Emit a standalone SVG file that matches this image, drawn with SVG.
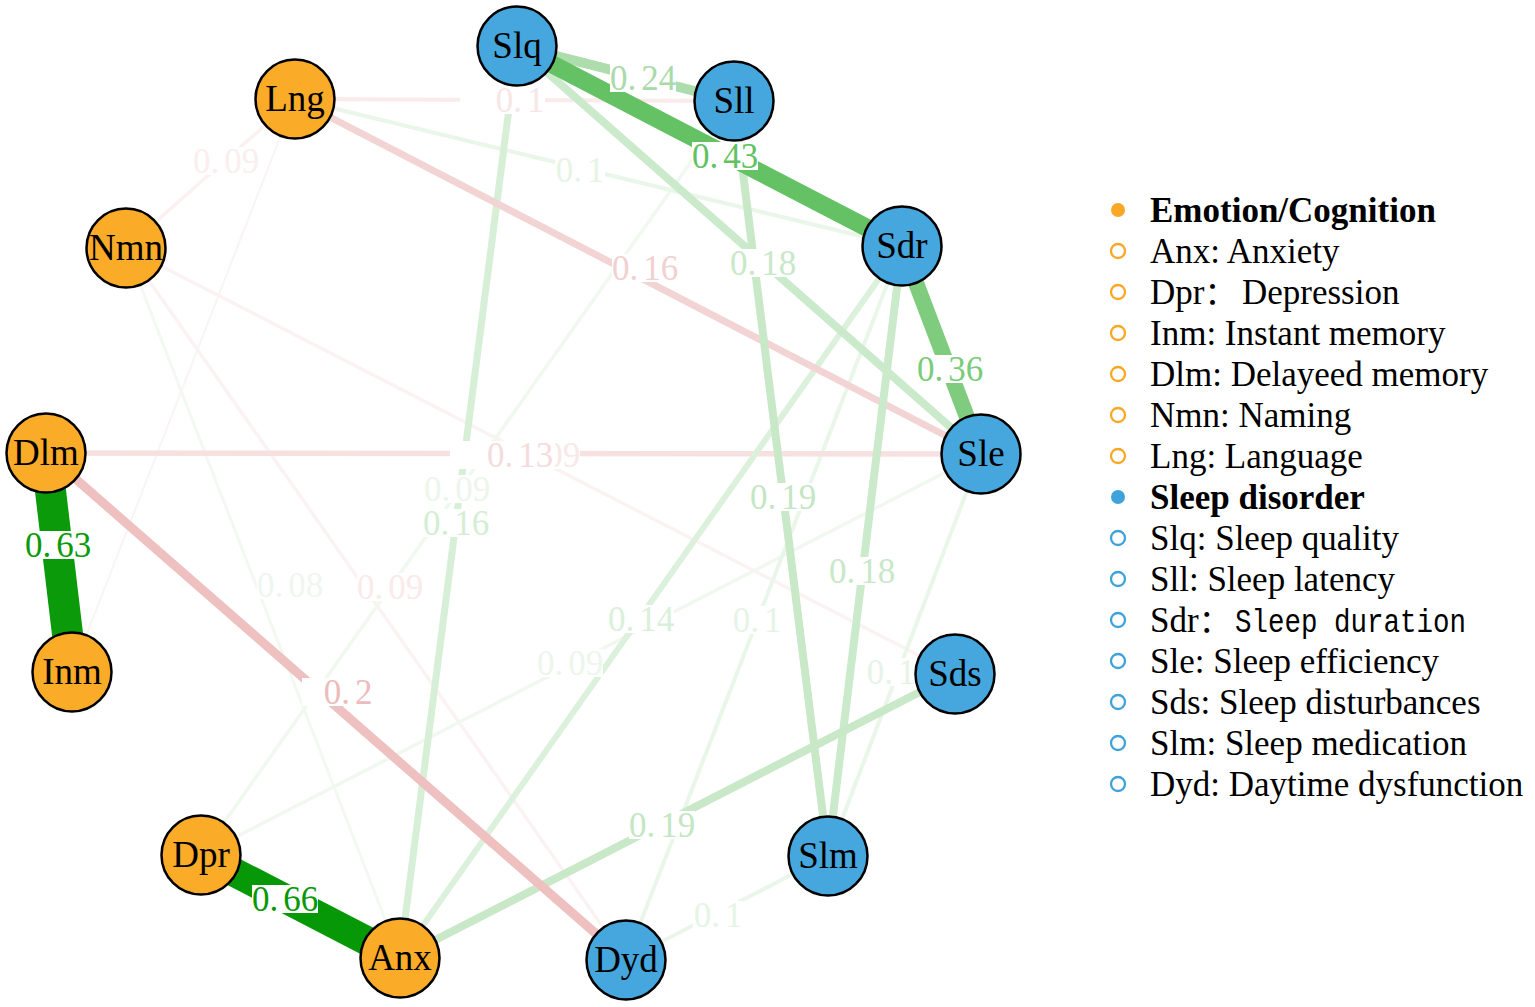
<svg xmlns="http://www.w3.org/2000/svg" width="1535" height="1007" viewBox="0 0 1535 1007">
<style>
.e{fill:none;stroke-linecap:butt}
.lb rect{fill:#ffffff}
.lb text{font-family:"Liberation Serif","Times New Roman",serif;font-size:35px;text-anchor:middle}
.n circle{stroke:#000;stroke-width:2.5}
.o circle{fill:#FAAB28}
.b circle{fill:#45A7DD}
.n text{font-family:"Liberation Serif","Times New Roman",serif;font-size:37px;text-anchor:middle;fill:#000}
.lg{font-family:"Liberation Serif","Times New Roman",serif;font-size:35px;fill:#000}
.hd{font-weight:bold}
.mo{fill:none;stroke:#F9A825;stroke-width:2.3}
.mb{fill:none;stroke:#3EA3DA;stroke-width:2.3}
</style>
<rect width="1535" height="1007" fill="#ffffff"/>
<g id="connectors">
  <line class="e" x1="295" y1="99" x2="72" y2="672" stroke="#f8f5f4" stroke-width="2"/>
  <line class="e" x1="126" y1="248" x2="400" y2="958" stroke="#f4f8f3" stroke-width="3"/>
  <line class="e" x1="126" y1="248" x2="295" y2="99" stroke="#fbf1f0" stroke-width="3.5"/>
  <line class="e" x1="126" y1="248" x2="626" y2="960" stroke="#fbf3f3" stroke-width="3.5"/>
  <line class="e" x1="126" y1="248" x2="955" y2="674" stroke="#fbf3f3" stroke-width="3.5"/>
  <line class="e" x1="201" y1="855" x2="734" y2="101" stroke="#f0f8f0" stroke-width="3.5"/>
  <line class="e" x1="201" y1="855" x2="981" y2="454" stroke="#f0f8f0" stroke-width="3.5"/>
  <line class="e" x1="295" y1="99" x2="902" y2="246" stroke="#eaf6ea" stroke-width="4"/>
  <line class="e" x1="295" y1="99" x2="734" y2="101" stroke="#faeaea" stroke-width="4"/>
  <line class="e" x1="626" y1="960" x2="902" y2="246" stroke="#eaf6ea" stroke-width="4"/>
  <line class="e" x1="981" y1="454" x2="828" y2="856" stroke="#eaf6ea" stroke-width="4"/>
  <line class="e" x1="626" y1="960" x2="828" y2="856" stroke="#eaf6ea" stroke-width="4"/>
  <line class="e" x1="46" y1="453" x2="981" y2="454" stroke="#f7e0e0" stroke-width="5.5"/>
  <line class="e" x1="902" y1="246" x2="400" y2="958" stroke="#dcf1dc" stroke-width="6"/>
  <line class="e" x1="517" y1="46" x2="400" y2="958" stroke="#d6efd6" stroke-width="7"/>
  <line class="e" x1="295" y1="99" x2="981" y2="454" stroke="#f3d4d4" stroke-width="7"/>
  <line class="e" x1="517" y1="46" x2="981" y2="454" stroke="#cbeacb" stroke-width="8"/>
  <line class="e" x1="902" y1="246" x2="828" y2="856" stroke="#cbeacb" stroke-width="8"/>
  <line class="e" x1="400" y1="958" x2="955" y2="674" stroke="#c8e8c8" stroke-width="8"/>
  <line class="e" x1="734" y1="101" x2="828" y2="856" stroke="#c8e8c8" stroke-width="8"/>
  <line class="e" x1="46" y1="453" x2="626" y2="960" stroke="#eec0c0" stroke-width="9"/>
  <line class="e" x1="517" y1="46" x2="734" y2="101" stroke="#addcad" stroke-width="10"/>
  <line class="e" x1="902" y1="246" x2="981" y2="454" stroke="#7fcc7f" stroke-width="16"/>
  <line class="e" x1="517" y1="46" x2="902" y2="246" stroke="#64c264" stroke-width="18"/>
  <line class="e" x1="46" y1="453" x2="72" y2="672" stroke="#0a9a0a" stroke-width="31"/>
  <line class="e" x1="201" y1="855" x2="400" y2="958" stroke="#069806" stroke-width="29"/>
</g>
<g id="edge-labels">
  <g class="lb"><rect x="257" y="571" width="66" height="28"/><text x="290" y="597" fill="#eff6ef">0.<tspan dx="5">08</tspan></text></g>
  <g class="lb"><rect x="193" y="147" width="66" height="28"/><text x="226" y="173" fill="#faeeee">0.<tspan dx="5">09</tspan></text></g>
  <g class="lb"><rect x="514" y="441" width="66" height="28"/><text x="547" y="467" fill="#f9e8e8">0.<tspan dx="5">09</tspan></text></g>
  <g class="lb"><rect x="424" y="475" width="66" height="28"/><text x="457" y="501" fill="#ecf6ec">0.<tspan dx="5">09</tspan></text></g>
  <g class="lb"><rect x="357" y="573" width="66" height="28"/><text x="390" y="599" fill="#faeaea">0.<tspan dx="5">09</tspan></text></g>
  <g class="lb"><rect x="537" y="649" width="66" height="28"/><text x="570" y="675" fill="#ecf6ec">0.<tspan dx="5">09</tspan></text></g>
  <g class="lb"><rect x="555" y="156" width="50" height="28"/><text x="580" y="182" fill="#e6f4e6">0.<tspan dx="5">1</tspan></text></g>
  <g class="lb"><rect x="460" y="86" width="85" height="28"/><text x="520" y="112" fill="#f8e6e6">0.<tspan dx="5">1</tspan></text></g>
  <g class="lb"><rect x="732" y="606" width="50" height="28"/><text x="757" y="632" fill="#e6f4e6">0.<tspan dx="5">1</tspan></text></g>
  <g class="lb"><rect x="866" y="658" width="50" height="28"/><text x="891" y="684" fill="#e6f4e6">0.<tspan dx="5">1</tspan></text></g>
  <g class="lb"><rect x="693" y="901" width="50" height="28"/><text x="718" y="927" fill="#e6f4e6">0.<tspan dx="5">1</tspan></text></g>
  <g class="lb"><rect x="450" y="441" width="105" height="28"/><text x="520" y="467" fill="#f5dcdc">0.<tspan dx="5">13</tspan></text></g>
  <g class="lb"><rect x="608" y="605" width="66" height="28"/><text x="641" y="631" fill="#d9f0d9">0.<tspan dx="5">14</tspan></text></g>
  <g class="lb"><rect x="423" y="509" width="66" height="28"/><text x="456" y="535" fill="#d3eed3">0.<tspan dx="5">16</tspan></text></g>
  <g class="lb"><rect x="612" y="254" width="66" height="28"/><text x="645" y="280" fill="#f1d0d0">0.<tspan dx="5">16</tspan></text></g>
  <g class="lb"><rect x="730" y="249" width="66" height="28"/><text x="763" y="275" fill="#c8e8c8">0.<tspan dx="5">18</tspan></text></g>
  <g class="lb"><rect x="829" y="557" width="66" height="28"/><text x="862" y="583" fill="#c8e8c8">0.<tspan dx="5">18</tspan></text></g>
  <g class="lb"><rect x="750" y="483" width="66" height="28"/><text x="783" y="509" fill="#c4e6c4">0.<tspan dx="5">19</tspan></text></g>
  <g class="lb"><rect x="629" y="811" width="66" height="28"/><text x="662" y="837" fill="#c4e6c4">0.<tspan dx="5">19</tspan></text></g>
  <g class="lb"><rect x="302" y="678" width="72" height="28"/><text x="348" y="704" fill="#ecbcbc">0.<tspan dx="5">2</tspan></text></g>
  <g class="lb"><rect x="610" y="64" width="66" height="28"/><text x="643" y="90" fill="#a9daa9">0.<tspan dx="5">24</tspan></text></g>
  <g class="lb"><rect x="917" y="355" width="66" height="28"/><text x="950" y="381" fill="#7acb7a">0.<tspan dx="5">36</tspan></text></g>
  <g class="lb"><rect x="692" y="142" width="66" height="28"/><text x="725" y="168" fill="#62c262">0.<tspan dx="5">43</tspan></text></g>
  <g class="lb"><rect x="25" y="531" width="66" height="28"/><text x="58" y="557" fill="#0a9a0a">0.<tspan dx="5">63</tspan></text></g>
  <g class="lb"><rect x="252" y="885" width="66" height="28"/><text x="285" y="911" fill="#069806">0.<tspan dx="5">66</tspan></text></g>
</g>
<g id="node-Slq" class="n b"><circle cx="517" cy="46" r="39.5"/><text x="517" y="58">Slq</text></g>
<g id="node-Sll" class="n b"><circle cx="734" cy="101" r="39.5"/><text x="734" y="113">Sll</text></g>
<g id="node-Sdr" class="n b"><circle cx="902" cy="246" r="39.5"/><text x="902" y="258">Sdr</text></g>
<g id="node-Sle" class="n b"><circle cx="981" cy="454" r="39.5"/><text x="981" y="466">Sle</text></g>
<g id="node-Sds" class="n b"><circle cx="955" cy="674" r="39.5"/><text x="955" y="686">Sds</text></g>
<g id="node-Slm" class="n b"><circle cx="828" cy="856" r="39.5"/><text x="828" y="868">Slm</text></g>
<g id="node-Dyd" class="n b"><circle cx="626" cy="960" r="39.5"/><text x="626" y="972">Dyd</text></g>
<g id="node-Anx" class="n o"><circle cx="400" cy="958" r="39.5"/><text x="400" y="970">Anx</text></g>
<g id="node-Dpr" class="n o"><circle cx="201" cy="855" r="39.5"/><text x="201" y="867">Dpr</text></g>
<g id="node-Inm" class="n o"><circle cx="72" cy="672" r="39.5"/><text x="72" y="684">Inm</text></g>
<g id="node-Dlm" class="n o"><circle cx="46" cy="453" r="39.5"/><text x="46" y="465">Dlm</text></g>
<g id="node-Nmn" class="n o"><circle cx="126" cy="248" r="39.5"/><text x="126" y="260">Nmn</text></g>
<g id="node-Lng" class="n o"><circle cx="295" cy="99" r="39.5"/><text x="295" y="111">Lng</text></g>
<g id="legend">
  <circle cx="1118" cy="210" r="7" fill="#F9A825"/>
  <text class="lg hd" x="1150" y="222">Emotion/Cognition</text>
  <circle class="mo" cx="1118" cy="251" r="7"/>
  <text class="lg" x="1150" y="263">Anx: Anxiety</text>
  <circle class="mo" cx="1118" cy="292" r="7"/>
  <text class="lg" x="1150" y="304">Dpr<tspan font-family="'Noto Sans CJK SC',sans-serif" font-size="32">：</tspan> <tspan x="1242">Depression</tspan></text>
  <circle class="mo" cx="1118" cy="333" r="7"/>
  <text class="lg" x="1150" y="345">Inm: Instant memory</text>
  <circle class="mo" cx="1118" cy="374" r="7"/>
  <text class="lg" x="1150" y="386">Dlm: Delayeed memory</text>
  <circle class="mo" cx="1118" cy="415" r="7"/>
  <text class="lg" x="1150" y="427">Nmn: Naming</text>
  <circle class="mo" cx="1118" cy="456" r="7"/>
  <text class="lg" x="1150" y="468">Lng: Language</text>
  <circle cx="1118" cy="497" r="7" fill="#3EA3DA"/>
  <text class="lg hd" x="1150" y="509">Sleep disorder</text>
  <circle class="mb" cx="1118" cy="538" r="7"/>
  <text class="lg" x="1150" y="550">Slq: Sleep quality</text>
  <circle class="mb" cx="1118" cy="579" r="7"/>
  <text class="lg" x="1150" y="591">Sll: Sleep latency</text>
  <circle class="mb" cx="1118" cy="620" r="7"/>
  <text class="lg" x="1150" y="632">Sdr<tspan font-family="'Noto Sans CJK SC',sans-serif" font-size="32">：</tspan> <tspan x="1235" font-family="'Liberation Mono',monospace" font-size="33" textLength="231" lengthAdjust="spacingAndGlyphs">Sleep duration</tspan></text>
  <circle class="mb" cx="1118" cy="661" r="7"/>
  <text class="lg" x="1150" y="673">Sle: Sleep efficiency</text>
  <circle class="mb" cx="1118" cy="702" r="7"/>
  <text class="lg" x="1150" y="714">Sds: Sleep disturbances</text>
  <circle class="mb" cx="1118" cy="743" r="7"/>
  <text class="lg" x="1150" y="755">Slm: Sleep medication</text>
  <circle class="mb" cx="1118" cy="784" r="7"/>
  <text class="lg" x="1150" y="796">Dyd: Daytime dysfunction</text>
</g>
</svg>
